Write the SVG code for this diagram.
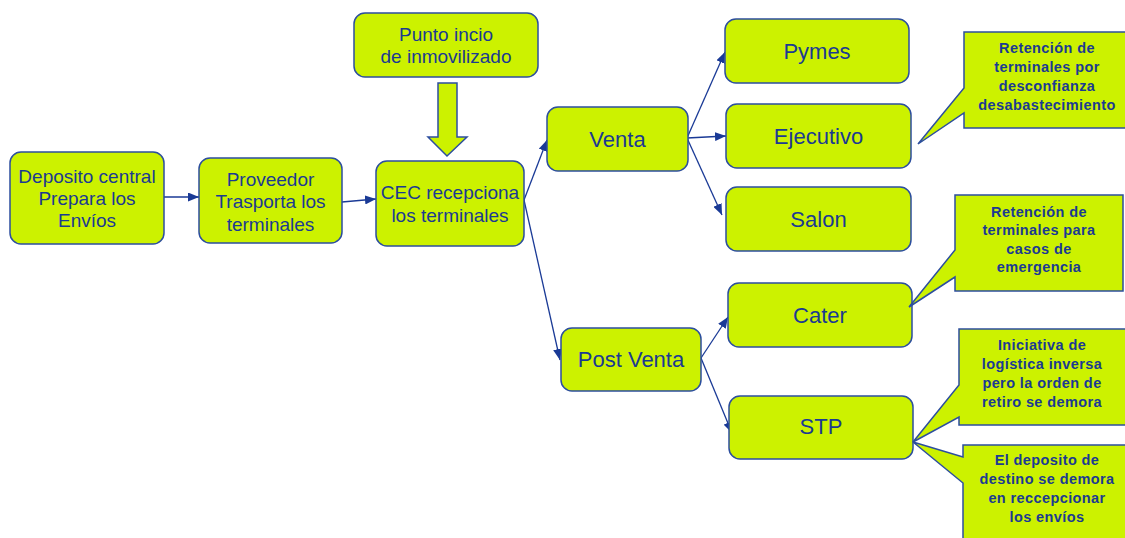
<svg xmlns="http://www.w3.org/2000/svg" width="1125" height="538" viewBox="0 0 1125 538">
<style>
.box{fill:#CCF200;stroke:#2C4E9E;stroke-width:1.5}
.t{font-family:"Liberation Sans",Arial,sans-serif;fill:#1B3A92;text-anchor:middle}
.m{font-size:19px}
.l{font-size:22px}
.c{font-size:14.5px;font-weight:bold;letter-spacing:0.4px}
.con{stroke:#1A3A96;stroke-width:1.3;fill:none;marker-end:url(#ah)}
</style>
<defs>
<marker id="ah" viewBox="0 0 11 9" refX="11" refY="4.5" markerWidth="11" markerHeight="9" markerUnits="userSpaceOnUse" orient="auto">
<path d="M0,0 L11,4.5 L0,9 Z" fill="#1A3A96"/>
</marker>
</defs>
<rect width="1125" height="538" fill="#FFFFFF"/>
<g id="connectors">
<line class="con" x1="164" y1="197" x2="199" y2="197"/>
<line class="con" x1="342" y1="202" x2="376" y2="199"/>
<line class="con" x1="524" y1="200" x2="547" y2="140"/>
<line class="con" x1="524" y1="200" x2="560" y2="360"/>
<line class="con" x1="687" y1="138" x2="725" y2="52"/>
<line class="con" x1="687" y1="138" x2="726" y2="136"/>
<line class="con" x1="687" y1="138" x2="722" y2="215"/>
<line class="con" x1="701" y1="358" x2="728" y2="317"/>
<line class="con" x1="701" y1="358" x2="732" y2="433"/>
</g>
<g id="deposito">
<rect class="box" x="10" y="152" width="154" height="92" rx="11"/>
<text class="t m" x="87" y="183">Deposito central</text>
<text class="t m" x="87" y="205">Prepara los</text>
<text class="t m" x="87" y="227">Envíos</text>
</g>
<g id="proveedor">
<rect class="box" x="199" y="158" width="143" height="85" rx="11"/>
<text class="t m" x="270.5" y="186">Proveedor</text>
<text class="t m" x="270.5" y="208">Trasporta los</text>
<text class="t m" x="270.5" y="231">terminales</text>
</g>
<g id="cec">
<rect class="box" x="376" y="161" width="148" height="85" rx="11"/>
<text class="t m" x="450" y="199">CEC recepciona</text>
<text class="t m" x="450" y="222">los terminales</text>
</g>
<g id="punto">
<rect class="box" x="354" y="13" width="184" height="64" rx="11"/>
<text class="t m" x="446" y="41">Punto incio</text>
<text class="t m" x="446" y="63">de inmovilizado</text>
</g>
<g id="bigarrow">
<polygon class="box" points="438,83 457,83 457,137 467,137 447,156 428,137 438,137"/>
</g>
<g id="venta">
<rect class="box" x="547" y="107" width="141" height="64" rx="11"/>
<text class="t l" x="617.5" y="147">Venta</text>
</g>
<g id="postventa">
<rect class="box" x="561" y="328" width="140" height="63" rx="11"/>
<text class="t l" x="631" y="367">Post Venta</text>
</g>
<g id="pymes">
<rect class="box" x="725" y="19" width="184" height="64" rx="11"/>
<text class="t l" x="817" y="59">Pymes</text>
</g>
<g id="ejecutivo">
<rect class="box" x="726" y="104" width="185" height="64" rx="11"/>
<text class="t l" x="818.5" y="144">Ejecutivo</text>
</g>
<g id="salon">
<rect class="box" x="726" y="187" width="185" height="64" rx="11"/>
<text class="t l" x="818.5" y="227">Salon</text>
</g>
<g id="cater">
<rect class="box" x="728" y="283" width="184" height="64" rx="11"/>
<text class="t l" x="820" y="323">Cater</text>
</g>
<g id="stp">
<rect class="box" x="729" y="396" width="184" height="63" rx="11"/>
<text class="t l" x="821" y="434">STP</text>
</g>
<g id="callout1">
<path class="box" d="M964,32 H1130 V128 H964 V113 L918,144 L964,88 Z"/>
<text class="t c" x="1047" y="53">Retención de</text>
<text class="t c" x="1047" y="72">terminales por</text>
<text class="t c" x="1047" y="91">desconfianza</text>
<text class="t c" x="1047" y="110">desabastecimiento</text>
</g>
<g id="callout2">
<path class="box" d="M955,195 H1123 V291 H955 V277 L909,307 L955,250 Z"/>
<text class="t c" x="1039" y="217">Retención de</text>
<text class="t c" x="1039" y="235">terminales para</text>
<text class="t c" x="1039" y="254">casos de</text>
<text class="t c" x="1039" y="272">emergencia</text>
</g>
<g id="callout3">
<path class="box" d="M959,329 H1127 V425 H959 V417 L913,442 L959,385 Z"/>
<text class="t c" x="1042" y="350">Iniciativa de</text>
<text class="t c" x="1042" y="369">logística inversa</text>
<text class="t c" x="1042" y="388">pero la orden de</text>
<text class="t c" x="1042" y="407">retiro se demora</text>
</g>
<g id="callout4">
<path class="box" d="M963,445 H1131 V545 H963 V483 L913,442 L963,457 Z"/>
<text class="t c" x="1047" y="465">El deposito de</text>
<text class="t c" x="1047" y="484">destino se demora</text>
<text class="t c" x="1047" y="503">en reccepcionar</text>
<text class="t c" x="1047" y="522">los envíos</text>
</g>
</svg>
